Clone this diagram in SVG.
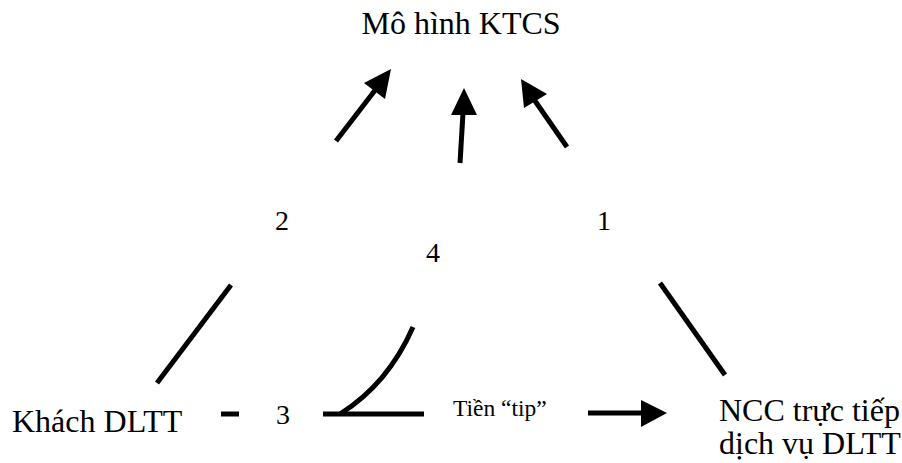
<svg xmlns="http://www.w3.org/2000/svg" width="902" height="463" viewBox="0 0 902 463">
  <style>
    .big { font-size: 32px; }
    .num { font-size: 28px; }
    .small { font-size: 23.5px; }
    .ln { stroke: #000; stroke-width: 5; fill: none; stroke-linecap: butt; }
    .hd { fill: #000; stroke: none; }
  </style>
  <rect width="902" height="463" fill="#fff"/>

  <g font-family="'Liberation Serif', 'DejaVu Serif', serif" fill="#000">
    <g id="node-ktcs">
      <text class="big" x="461" y="34" text-anchor="middle">Mô hình KTCS</text>
    </g>
    <g id="node-khach">
      <text class="big" x="12" y="432" font-size="33">Khách DLTT</text>
    </g>
    <g id="node-ncc">
      <text class="big" x="719" y="421" font-size="31">NCC trực tiếp</text>
      <text class="big" x="719" y="454" font-size="31.5">dịch vụ DLTT</text>
    </g>
    <g id="label-1"><text class="num" x="597" y="230">1</text></g>
    <g id="label-2"><text class="num" x="275" y="230">2</text></g>
    <g id="label-3"><text class="num" x="276" y="424">3</text></g>
    <g id="label-4"><text class="num" x="426" y="262">4</text></g>
    <g id="label-tip"><text class="small" x="453" y="416">Tiền “tip”</text></g>
  </g>

  <g id="connectors">
    <!-- flows into the central model -->
    <line class="ln" x1="336" y1="141" x2="376" y2="89"/>
    <polygon class="hd" points="391,69 364,83 385,99"/>
    <line class="ln" x1="460" y1="163" x2="463" y2="113"/>
    <polygon class="hd" points="464,88 451,115 477,115"/>
    <line class="ln" x1="567" y1="147" x2="533" y2="98"/>
    <polygon class="hd" points="521,79 524,108 547,94"/>

    <!-- triangle sides -->
    <line class="ln" x1="157" y1="383" x2="231" y2="285"/>
    <line class="ln" x1="660" y1="283" x2="725" y2="375"/>
    <line class="ln" x1="221" y1="414" x2="239" y2="414"/>
    <line class="ln" x1="323" y1="414" x2="424" y2="414"/>
    <path class="ln" d="M340,414 Q388,384 413,327"/>

    <!-- tip payment -->
    <line class="ln" x1="588" y1="413" x2="645" y2="413"/>
    <polygon class="hd" points="667,413 641,400 641,427"/>
  </g>
</svg>
